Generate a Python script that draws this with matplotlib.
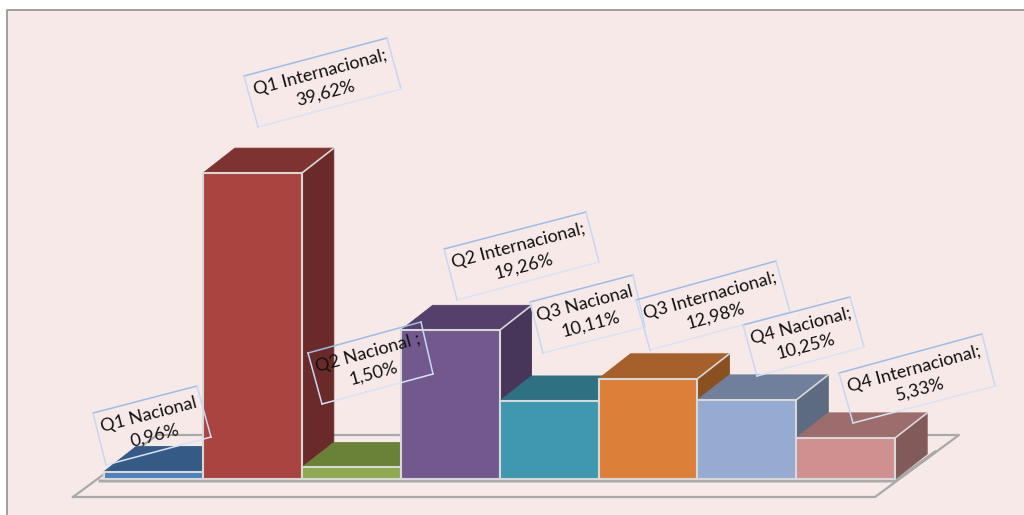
import numpy as np
import matplotlib
matplotlib.use("Agg")
import matplotlib.pyplot as plt
from matplotlib.patches import Polygon
from matplotlib.transforms import Affine2D

plt.rcParams['font.family'] = ['Lato', 'DejaVu Sans']

# values
categories = ["Q1 Nacional", "Q1 Internacional;", "Q2 Nacional ;", "Q2 Internacional;",
              "Q3 Nacional", "Q3 Internacional;", "Q4 Nacional;", "Q4 Internacional;"]
values = [0.96, 39.62, 1.50, 19.26, 10.11, 12.98, 10.25, 5.33]
value_labels = ["0,96%", "39,62%", "1,50%", "19,26%", "10,11%", "12,98%", "10,25%", "5,33%"]

# colours
front_colors = ["#4f81bd", "#a94441", "#8faa4e", "#72588d", "#4097b0", "#dc8039", "#96abd1", "#cf9190"]
top_colors = ["#345a85", "#7f3330", "#6a8238", "#553f6b", "#2e7183", "#a5602c", "#707f9c", "#9d6c6c"]
side_colors = ["#2c4c70", "#6b2a2a", "#586d2f", "#48365a", "#26606f", "#8a5022", "#5c6b82", "#825a5a"]
bg = "#f7e9e8"

# label boxes in pixels, corners clockwise from top left
boxes = [
    [(93, 413), (197, 386), (211, 437), (106, 465)],
    [(244, 76), (387, 38), (401, 89), (258, 127)],
    [(308, 353), (421, 322), (433, 374), (322, 404)],
    [(444, 249), (586, 212), (599, 262), (457, 300)],
    [(530, 302), (633, 275), (645, 327), (543, 353)],
    [(636, 300), (776, 261), (790, 312), (650, 350)],
    [(743, 325), (850, 297), (864, 347), (757, 376)],
    [(839, 373), (982, 334), (995, 386), (853, 423)],
]
box_edges = ["#9dbce8", "#c6d8f2", "#d8e4f5", "#c6d8f2"]

W, H = 1024, 515
fig = plt.figure(figsize=(W / 100, H / 100), dpi=100, facecolor="white")
ax = fig.add_axes([0, 0, 1, 1])
ax.axis("off")

# x in bars, y in percent
bar_px = 98.9
val_px = 7.72
x0_px, y0_px = 104, 479
ax.set_xlim(-x0_px / bar_px, (W - x0_px) / bar_px)
ax.set_ylim(-(H - y0_px) / val_px, y0_px / val_px)
dx, dy = 32 / bar_px, 25 / val_px

# pixel coordinates for the chart furniture
pix = Affine2D().scale(1, -1).translate(0, H)

ax.add_patch(Polygon([(7, 10), (1024, 10), (1024, 515), (7, 515)], closed=True, fc=bg, ec="none",
                     transform=pix, zorder=0))
ax.plot([7, 7, 1024], [515, 10, 10], color="#999999", lw=1.3, transform=pix, zorder=1)

# floor
gray = "#a9a9a9"
ax.plot([73, 875, 959, 157, 73], [497, 497, 435, 435, 497], color=gray, lw=1.6, transform=pix, zorder=1)
ax.plot([100, 895, 935], [481, 481, 452], color=gray, lw=2.2, transform=pix, zorder=1)

# bars
for i, v in enumerate(values):
    edge = "#d8d8d8"
    front = [(i, 0), (i + 1, 0), (i + 1, v), (i, v)]
    top = [(i, v), (i + 1, v), (i + 1 + dx, v + dy), (i + dx, v + dy)]
    side = [(i + 1, 0), (i + 1 + dx, dy), (i + 1 + dx, v + dy), (i + 1, v)]
    ax.add_patch(Polygon(side, closed=True, fc=side_colors[i], ec=side_colors[i], lw=0.6, zorder=3))
    ax.add_patch(Polygon(top, closed=True, fc=top_colors[i], ec=top_colors[i], lw=0.6, zorder=3))
    ax.plot([i + 1, i + 1 + dx], [v, v + dy], color=edge, lw=1.2, zorder=3)
    ax.add_patch(Polygon(front, closed=True, fc=front_colors[i], ec=edge, lw=1.5, zorder=3))

# data labels
for name, val, corners in zip(categories, value_labels, boxes):
    c = np.array(corners, dtype=float)
    for k in range(4):
        p, q = c[k], c[(k + 1) % 4]
        ax.plot([p[0], q[0]], [p[1], q[1]], color=box_edges[k], lw=1.1, transform=pix, zorder=5)
    mid = c.mean(axis=0)
    angle = np.degrees(np.arctan2(c[0][1] - c[1][1], c[1][0] - c[0][0]))
    ax.text(mid[0], mid[1], name + "\n" + val, transform=pix, rotation=angle, rotation_mode="anchor",
            ha="center", va="center", multialignment="center", fontsize=13, color="#111111",
            linespacing=1.4, zorder=6)

fig.savefig("out.png", dpi=100)
